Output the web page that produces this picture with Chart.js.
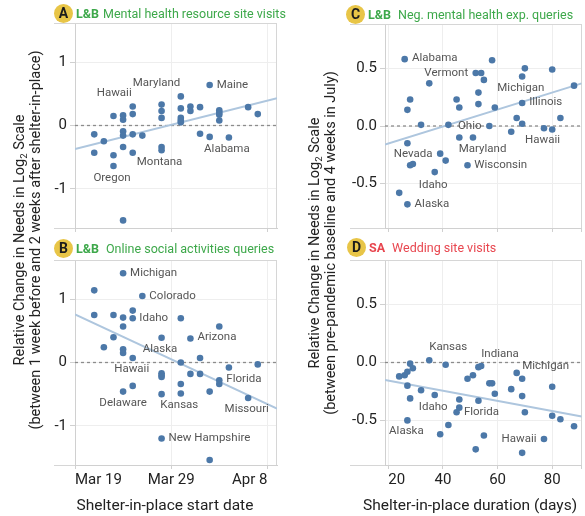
<!DOCTYPE html>
<html>
<head>
<meta charset="utf-8">
<script src="https://cdn.jsdelivr.net/npm/chart.js@4.4.1/dist/chart.umd.min.js"></script>
<style>
  html, body { margin:0; padding:0; background:#ffffff; }
  #fig { position:relative; width:585px; height:516px; overflow:hidden; font-family: Roboto, "Liberation Sans", sans-serif; color:#222; }
  #fig canvas { position:absolute; }
  .ptitle { position:absolute; height:20px; display:flex; align-items:center; white-space:nowrap; font-size:12.5px; }
  .badge { width:19px; height:19px; border-radius:50%; background:#e8c547; color:#1c1c1c; font-weight:700; font-size:14px; line-height:19px; text-align:center; margin-right:3px; }
  .tag { font-weight:700; margin-right:7px; }
  .green { color:#3da84a; }
  .red { color:#e8464f; }
  .ytitle { position:absolute; width:480px; text-align:center; font-size:14.5px; line-height:16px; transform: translate(-50%,-50%) rotate(-90deg); white-space:nowrap; color:#222; }
  .ytitle sub { font-size:9.5px; line-height:0; vertical-align:-3px; }
  .xtitle { position:absolute; font-size:15.5px; transform: translate(-50%,-50%); white-space:nowrap; color:#222; }
</style>
</head>
<body>
<div id="fig">
  <canvas id="cA" width="292" height="240" style="left:0px;top:0px;width:292px;height:240px"></canvas>
  <canvas id="cB" width="292" height="276" style="left:0px;top:240px;width:292px;height:276px"></canvas>
  <canvas id="cC" width="293" height="240" style="left:292px;top:0px;width:293px;height:240px"></canvas>
  <canvas id="cD" width="293" height="276" style="left:292px;top:240px;width:293px;height:276px"></canvas>

  <div class="ptitle" style="left:54px;top:3px"><span class="badge">A</span><span class="tag green" style="margin-right:4px">L&amp;B</span><span class="green">Mental health resource site visits</span></div>
  <div class="ptitle" style="left:54px;top:238px"><span class="badge">B</span><span class="tag green">L&amp;B</span><span class="green">Online social activities queries</span></div>
  <div class="ptitle" style="left:346px;top:4px"><span class="badge">C</span><span class="tag green">L&amp;B</span><span class="green">Neg. mental health exp. queries</span></div>
  <div class="ptitle" style="left:347px;top:237px"><span class="badge">D</span><span class="tag red">SA</span><span class="red">Wedding site visits</span></div>

  <div class="ytitle" style="left:28px;top:240px">Relative Change in Needs in Log<sub>2</sub> Scale<br>(between 1 week before and 2 weeks after shelter-in-place)</div>
  <div class="ytitle" style="left:323px;top:243px">Relative Change in Needs in Log<sub>2</sub> Scale<br>(between pre-pandemic baseline and 4 weeks in July)</div>

  <div class="xtitle" style="left:165px;top:505px">Shelter-in-place start date</div>
  <div class="xtitle" style="left:470px;top:505px">Shelter-in-place duration (days)</div>
</div>
<script>
// ---------------- DATA ----------------
// Panel A: Mental health resource site visits (x = shelter-in-place start date)
const A_DATES = ['2020-03-21','2020-03-21','2020-03-22','2020-03-23','2020-03-23','2020-03-23',
  '2020-03-24','2020-03-24','2020-03-24','2020-03-24','2020-03-24','2020-03-24',
  '2020-03-25','2020-03-25','2020-03-25','2020-03-25','2020-03-26',
  '2020-03-28','2020-03-28','2020-03-28','2020-03-28','2020-03-28',
  '2020-03-30','2020-03-30','2020-03-30','2020-03-30','2020-03-30',
  '2020-03-31','2020-03-31','2020-04-01','2020-04-01','2020-04-02','2020-04-02',
  '2020-04-03','2020-04-03','2020-04-03','2020-04-03','2020-04-04','2020-04-06','2020-04-07'];
const A_VALUES = [-0.14,-0.43,-0.25,0.15,-0.47,-0.64,
  0.16,0.09,-0.09,-0.16,-0.34,-1.50,
  0.30,0.18,-0.14,-0.43,-0.16,
  0.33,0.23,0.12,-0.34,-0.39,
  0.46,0.27,0.12,0.08,0.05,
  0.30,0.23,0.29,-0.13,0.64,-0.18,
  0.24,0.20,0.17,0.08,-0.19,0.29,0.18];
const A_NAMES = ['','','','','','Oregon',
  '','','','','','',
  'Hawaii','','','','',
  '','','','','Montana',
  'Maryland','','','','',
  '','','','','Maine','',
  '','','','','Alabama','',''];
const A_TREND = [-0.37, 0.43];

// Panel B: Online social activities queries
const B_DATES = ['2020-03-21','2020-03-21','2020-03-22','2020-03-23','2020-03-23',
  '2020-03-24','2020-03-24','2020-03-24','2020-03-24','2020-03-24','2020-03-24',
  '2020-03-25','2020-03-25','2020-03-25','2020-03-25','2020-03-26',
  '2020-03-28','2020-03-28','2020-03-28','2020-03-28','2020-03-28','2020-03-28',
  '2020-03-30','2020-03-30','2020-03-30','2020-03-30',
  '2020-03-31','2020-03-31','2020-04-01','2020-04-01','2020-04-02','2020-04-02',
  '2020-04-03','2020-04-03','2020-04-03','2020-04-04','2020-04-06','2020-04-07'];
const B_VALUES = [1.14,0.75,0.24,0.75,0.40,
  1.41,0.71,0.57,0.21,0.15,-0.46,
  0.82,0.70,0.07,-0.37,1.05,
  0.39,-0.17,-0.20,-0.23,-0.50,-1.20,
  0.70,0.00,-0.34,-0.49,
  0.38,-0.18,0.07,-0.18,-0.46,-1.54,
  0.57,-0.28,-0.34,-0.08,-0.56,-0.03];
const B_NAMES = ['','','','','',
  'Michigan','','','','','Delaware',
  '','Idaho','Hawaii','','Colorado',
  'Alaska','','','','','New Hampshire',
  '','','','Kansas',
  'Arizona','','','','','',
  '','Florida','','','Missouri',''];
const B_TREND = [0.76, -0.73];

// Panel C: Neg. mental health exp. queries (x = shelter-in-place duration, days)
const C_DAYS = [26,24,27,28,27,27,28,29,32,35,37,39,41,42,45,46,46,49,51,52,54,55,53,53,57,58,59,65,67,69,69,69,70,77,80,80,83,88];
const C_VALUES = [0.58,-0.58,-0.68,0.23,0.14,-0.15,-0.34,-0.33,0.01,0.37,-0.40,-0.24,-0.30,0.01,0.23,0.16,-0.10,-0.34,-0.10,0.46,0.46,0.40,0.29,0.19,0.00,0.57,0.16,-0.05,0.07,0.02,0.20,0.43,0.50,-0.02,-0.03,0.49,0.07,0.35];
const C_NAMES = ['Alabama','','Alaska','','','','','','','','Idaho','Nevada','','','','','','Wisconsin','Maryland','Vermont','','','','','Ohio','','','','','','Illinois','Michigan','','Hawaii','','','',''];
const C_TREND = [-0.16, 0.37];

// Panel D: Wedding site visits
const D_DAYS = [24,26,27,28,29,27,28,27,32,35,37,39,41,42,45,46,46,49,51,52,53,54,53,55,57,58,59,65,67,69,69,70,69,77,80,80,83,88];
const D_VALUES = [-0.12,-0.11,-0.08,-0.01,-0.05,-0.20,-0.31,-0.50,-0.24,0.02,-0.28,-0.62,-0.02,-0.54,-0.43,-0.39,-0.32,-0.14,-0.11,-0.75,-0.04,-0.03,-0.33,-0.63,-0.18,-0.18,-0.27,-0.23,-0.09,-0.14,-0.29,-0.43,-0.78,-0.66,-0.21,-0.46,-0.49,-0.55];
const D_NAMES = ['','','','','','','','Alaska','','Kansas','Idaho','','','','Florida','','','','','','','Indiana','','','','','','','','Michigan','','','','Hawaii','','','',''];
const D_TREND = [-0.15, -0.467];

// Axes
const AB_X_DOMAIN = ['2020-03-19','2020-04-09'];
const AB_X_TICK_DATES = ['2020-03-19','2020-03-29','2020-04-08'];
const AB_X_TICK_LABELS = ['Mar 19','Mar 29','Apr 8'];
const AB_Y_DOMAIN = [-1.62, 1.62];
const AB_Y_TICKS = [-1, 0, 1];
const AB_Y_TICK_LABELS = ['-1','0','1'];
const CD_X_DOMAIN = [18.8, 90.8];
const CD_X_TICKS = [20, 40, 60, 80];
const CD_X_TICK_LABELS = ['20','40','60','80'];
const CD_Y_DOMAIN = [-0.885, 0.885];
const CD_Y_TICKS = [-0.5, 0, 0.5];
const CD_Y_TICK_LABELS = ['-0.5','0.0','0.5'];

// ---------------- LABEL PLACEMENT (style: px offsets from the point) ----------------
const PLACE_A = {Hawaii:[-1,-13,'right'], Maryland:[-0.5,-12.8,'right'], Maine:[7,0,'left'], Montana:[-2,11.5,'center'], Alabama:[-2,12,'center'], Oregon:[-1.5,11.7,'center']};
const PLACE_B = {Michigan:[7,0,'left'], Colorado:[7,0,'left'], Idaho:[6.6,0,'left'], Arizona:[7,-1,'left'], Alaska:[-1.6,11,'center'], Hawaii:[-1,11,'center'], Delaware:[0,11.4,'center'], Kansas:[-1.5,11.2,'center'], Florida:[7,-1.5,'left'], Missouri:[-1.4,11,'center'], 'New Hampshire':[7,0,'left']};
const PLACE_C = {Alabama:[7.3,-1.3,'left'], Vermont:[-7.5,0,'right'], Michigan:[-1.3,11.4,'center'], Illinois:[7,-1,'left'], Ohio:[-7.8,0,'right'], Hawaii:[-1.5,12,'center'], Maryland:[9.6,11.7,'center'], Wisconsin:[6.7,0,'left'], Nevada:[-7.6,0,'right'], Idaho:[-1.5,13,'center'], Alaska:[7.2,0,'left']};
const PLACE_D = {Kansas:[0,-13,'left'], Indiana:[0,-12,'left'], Michigan:[0,-12.2,'left'], Idaho:[-1.5,12.2,'center'], Florida:[7.3,0,'left'], Alaska:[-1,10.8,'center'], Hawaii:[-7.5,0,'right']};

// ---------------- BUILD ----------------
const dayOf = d => (Date.parse(d) - Date.parse(AB_X_DOMAIN[0])) / 864e5;

const framePlugin = {
  id: 'frame',
  beforeDatasetsDraw(chart, args, opts) {
    const {ctx, chartArea: c} = chart;
    ctx.save();
    ctx.strokeStyle = '#d6d6d6';
    ctx.lineWidth = 1;
    ctx.beginPath();
    ctx.moveTo(c.left - opts.ext, Math.round(c.top) + 0.5);
    ctx.lineTo(c.right, Math.round(c.top) + 0.5);
    ctx.moveTo(Math.round(c.right) - 0.5, c.top);
    ctx.lineTo(Math.round(c.right) - 0.5, c.bottom);
    ctx.moveTo(c.left - opts.ext, Math.round(c.bottom) + 0.5);
    ctx.lineTo(c.left, Math.round(c.bottom) + 0.5);
    ctx.stroke();
    ctx.restore();
  }
};

const pointLabelPlugin = {
  id: 'pointLabels',
  afterDatasetsDraw(chart, args, opts) {
    const {ctx} = chart;
    const meta = chart.getDatasetMeta(0);
    ctx.save();
    ctx.font = '11.5px Roboto, "Liberation Sans", sans-serif';
    ctx.fillStyle = '#555555';
    ctx.textBaseline = 'middle';
    opts.names.forEach((n, i) => {
      if (!n) return;
      const p = opts.place[n];
      const el = meta.data[i];
      if (!p || !el) return;
      ctx.textAlign = p[2];
      ctx.fillText(n, el.x + p[0], el.y + p[1]);
    });
    ctx.restore();
  }
};

function build(id, o) {
  const pts = o.xs.map((x, i) => ({x: x, y: o.ys[i]}));
  const font = {family: 'Roboto, "Liberation Sans", sans-serif', size: 15};
  new Chart(document.getElementById(id), {
    type: 'scatter',
    data: {
      datasets: [
        {type: 'scatter', data: pts, backgroundColor: '#4c78a8', borderWidth: 0, pointRadius: 3.3, pointHoverRadius: 3.3, order: 0},
        {type: 'line', data: [{x: o.xMin, y: o.trend[0]}, {x: o.xMax, y: o.trend[1]}], borderColor: '#aec6de', borderWidth: 2, pointRadius: 0, fill: false, order: 1},
        {type: 'line', data: [{x: o.xMin, y: 0}, {x: o.xMax, y: 0}], borderColor: '#8c8c8c', borderWidth: 1.3, borderDash: [3, 3], pointRadius: 0, fill: false, order: 2}
      ]
    },
    options: {
      responsive: false,
      animation: false,
      events: [],
      layout: {padding: o.pad},
      plugins: {
        legend: {display: false},
        tooltip: {enabled: false},
        frame: {ext: o.ext},
        pointLabels: {names: o.names, place: o.place}
      },
      scales: {
        x: {
          type: 'linear', min: o.xMin, max: o.xMax,
          afterBuildTicks: s => { s.ticks = o.xTicks.map(v => ({value: v})); },
          afterFit: s => { s.height = o.xH; },
          grid: {color: '#eeeeee', drawTicks: true, tickLength: 4, tickColor: '#d0d0d0'},
          border: {color: '#d0d0d0'},
          ticks: {display: o.showX, align: 'inner', maxRotation: 0, autoSkip: false, padding: 2, color: '#222', font: font,
                  callback: (v, i) => (o.xLabels[i] !== undefined ? o.xLabels[i] : '')}
        },
        y: {
          type: 'linear', min: o.yMin, max: o.yMax,
          afterBuildTicks: s => { s.ticks = o.yTicks.map(v => ({value: v})); },
          afterFit: s => { s.width = o.yW; },
          grid: {color: '#eeeeee', drawTicks: true, tickLength: 5, tickColor: '#d0d0d0'},
          border: {color: '#d0d0d0'},
          ticks: {padding: 3, color: '#222', font: font, callback: (v, i) => o.yLabels[i]}
        }
      }
    },
    plugins: [framePlugin, pointLabelPlugin]
  });
}

function go() {
  const abMin = dayOf(AB_X_DOMAIN[0]), abMax = dayOf(AB_X_DOMAIN[1]);
  const abTicks = AB_X_TICK_DATES.map(dayOf);
  const common = {
    ab: {xMin: abMin, xMax: abMax, xTicks: abTicks, xLabels: AB_X_TICK_LABELS, yMin: AB_Y_DOMAIN[0], yMax: AB_Y_DOMAIN[1], yTicks: AB_Y_TICKS, yLabels: AB_Y_TICK_LABELS, yW: 75, ext: 21},
    cd: {xMin: CD_X_DOMAIN[0], xMax: CD_X_DOMAIN[1], xTicks: CD_X_TICKS.concat([CD_X_DOMAIN[1]]), xLabels: CD_X_TICK_LABELS, yMin: CD_Y_DOMAIN[0], yMax: CD_Y_DOMAIN[1], yTicks: CD_Y_TICKS, yLabels: CD_Y_TICK_LABELS, yW: 93, ext: 35}
  };
  build('cA', Object.assign({}, common.ab, {xs: A_DATES.map(dayOf), ys: A_VALUES, names: A_NAMES, place: PLACE_A, trend: A_TREND, pad: {top: 23, right: 15, left: 0, bottom: 0}, xH: 11, showX: false}));
  build('cB', Object.assign({}, common.ab, {xs: B_DATES.map(dayOf), ys: B_VALUES, names: B_NAMES, place: PLACE_B, trend: B_TREND, pad: {top: 20, right: 15, left: 0, bottom: 0}, xH: 51, showX: true}));
  build('cC', Object.assign({}, common.cd, {xs: C_DAYS, ys: C_VALUES, names: C_NAMES, place: PLACE_C, trend: C_TREND, pad: {top: 24, right: 3, left: 0, bottom: 0}, xH: 11, showX: false}));
  build('cD', Object.assign({}, common.cd, {xs: D_DAYS, ys: D_VALUES, names: D_NAMES, place: PLACE_D, trend: D_TREND, pad: {top: 20, right: 3, left: 0, bottom: 0}, xH: 51, showX: true}));
}

if (document.fonts && document.fonts.load) {
  Promise.all([document.fonts.load('15px Roboto'), document.fonts.load('bold 14px Roboto')]).then(go, go);
} else { go(); }
</script>
</body>
</html>
